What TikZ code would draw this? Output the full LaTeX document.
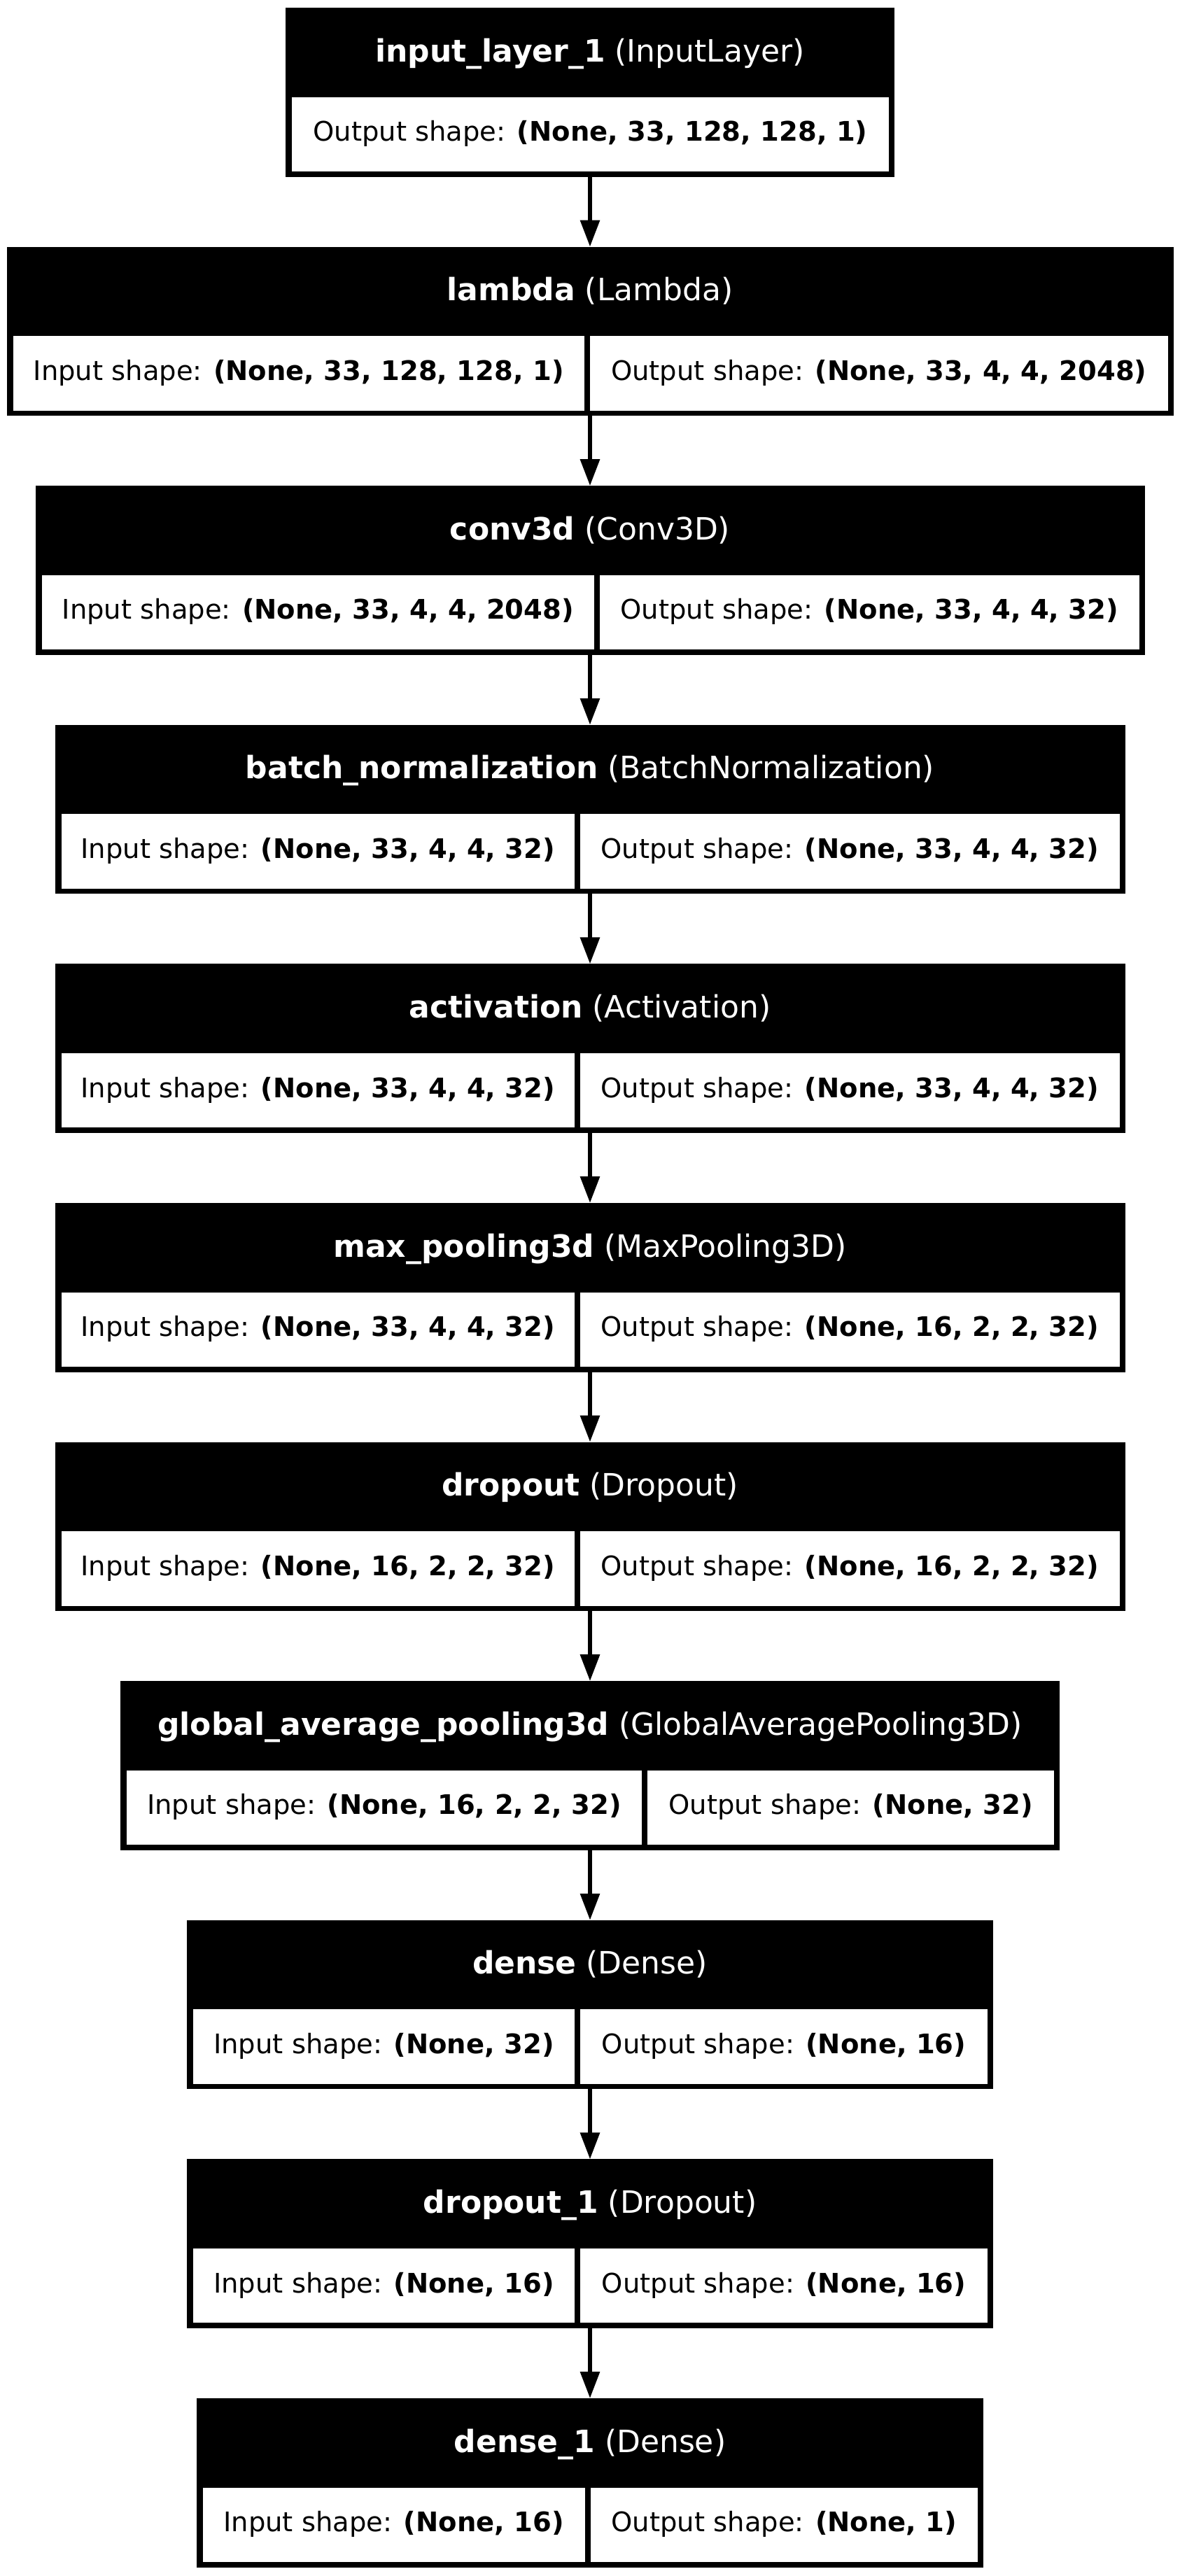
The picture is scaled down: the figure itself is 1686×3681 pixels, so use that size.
\documentclass[tikz,border=0pt]{standalone}
\usepackage{fontspec}
\setmainfont{DejaVu Sans}
\usetikzlibrary{arrows.meta}
\tikzset{
  outerbox/.style={draw=none, fill=black, minimum height=241.5pt, inner sep=0pt, outer sep=0pt},
  cellbox/.style={fill=white, draw=none, minimum height=106.5pt, inner sep=0pt, outer sep=0pt,
    text height=30pt, text depth=10pt, font=\fontsize{38.5}{46}\selectfont, anchor=north west},
  headtext/.style={text=white, font=\fontsize{44}{52}\selectfont, inner sep=0pt, anchor=base},
  conn/.style={line width=6pt, -{Triangle[length=38pt,width=27pt]}},
}
\newcommand{\kerasLayer}[8]{%
  \node[outerbox, minimum width={2*#3}, anchor=north] (#1) at (843,#2) {};
  \node[headtext] (#1-t) at (843,#2+77) {\textbf{#5} (#6)};
  \node[cellbox, minimum width={#4-843+#3-9}] (#1-in) at (843-#3+9,#2+127.5) {Input shape: \textbf{#7}};
  \node[cellbox, minimum width={843+#3-8-#4-8}] (#1-out) at (#4+8,#2+127.5) {Output shape: \textbf{#8}};
}
\begin{document}
\begin{tikzpicture}[x=1pt,y=-1pt]
\path[fill=white, use as bounding box] (0,0) rectangle (1686,3681);

% input layer
\node[outerbox, minimum width=870, anchor=north] (input) at (843,11) {};
\node[headtext] (input-t) at (843,88) {\textbf{input\_layer\_1} (InputLayer)};
\node[cellbox, minimum width=853] (input-out) at (417,138.5) {Output shape: \textbf{(None, 33, 128, 128, 1)}};

\kerasLayer{lambda}{352.6}{833.5}{835}{lambda}{Lambda}{(None, 33, 128, 128, 1)}{(None, 33, 4, 4, 2048)}
\kerasLayer{conv}{694.2}{792.5}{849}{conv3d}{Conv3D}{(None, 33, 4, 4, 2048)}{(None, 33, 4, 4, 32)}
\kerasLayer{bn}{1035.8}{764.5}{821}{batch\_normalization}{BatchNormalization}{(None, 33, 4, 4, 32)}{(None, 33, 4, 4, 32)}
\kerasLayer{act}{1377.4}{764.5}{821}{activation}{Activation}{(None, 33, 4, 4, 32)}{(None, 33, 4, 4, 32)}
\kerasLayer{pool}{1719}{764.5}{821}{max\_pooling3d}{MaxPooling3D}{(None, 33, 4, 4, 32)}{(None, 16, 2, 2, 32)}
\kerasLayer{drop}{2060.6}{764.5}{821}{dropout}{Dropout}{(None, 16, 2, 2, 32)}{(None, 16, 2, 2, 32)}
\kerasLayer{gap}{2402.2}{671}{917}{global\_average\_pooling3d}{GlobalAveragePooling3D}{(None, 16, 2, 2, 32)}{(None, 32)}
\kerasLayer{dense}{2743.8}{576.2}{821}{dense}{Dense}{(None, 32)}{(None, 16)}
\kerasLayer{dropa}{3085.4}{576.2}{821}{dropout\_1}{Dropout}{(None, 16)}{(None, 16)}
\kerasLayer{densea}{3427}{562.4}{835.5}{dense\_1}{Dense}{(None, 16)}{(None, 1)}

\draw[conn] (input.south) -- (lambda.north);
\draw[conn] (lambda.south) -- (conv.north);
\draw[conn] (conv.south) -- (bn.north);
\draw[conn] (bn.south) -- (act.north);
\draw[conn] (act.south) -- (pool.north);
\draw[conn] (pool.south) -- (drop.north);
\draw[conn] (drop.south) -- (gap.north);
\draw[conn] (gap.south) -- (dense.north);
\draw[conn] (dense.south) -- (dropa.north);
\draw[conn] (dropa.south) -- (densea.north);
\end{tikzpicture}
\end{document}
